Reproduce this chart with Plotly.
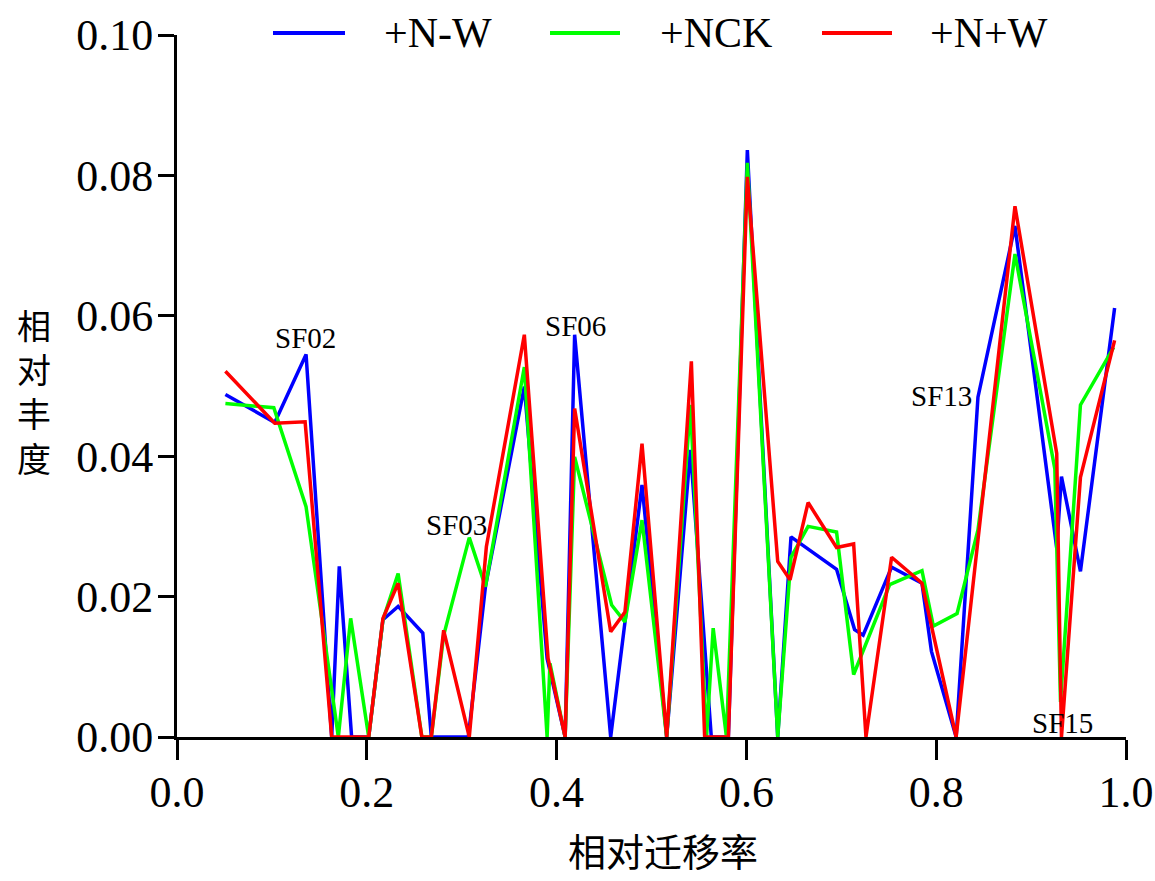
import plotly.graph_objects as go

# ---------------- data ----------------
series_names = ["+N-W", "+NCK", "+N+W"]
series_colors = ["#0000FF", "#00FF00", "#FF0000"]

x_nw = [0.051, 0.103, 0.136, 0.163, 0.171, 0.184, 0.202, 0.217, 0.233, 0.259, 0.268,
        0.307, 0.325, 0.366, 0.390, 0.409, 0.419, 0.457, 0.490, 0.516, 0.541, 0.563,
        0.581, 0.601, 0.633, 0.647, 0.695, 0.714, 0.723, 0.753, 0.785, 0.795, 0.821,
        0.844, 0.883, 0.927, 0.932, 0.952, 0.988]
y_nw = [0.0488, 0.0448, 0.0545, 0.0, 0.0243, 0.0, 0.0, 0.0167, 0.0186, 0.0148, 0.0,
        0.0, 0.0214, 0.0499, 0.0112, 0.0, 0.0573, 0.0, 0.0359, 0.0, 0.0409, 0.0,
        0.0, 0.0836, 0.0, 0.0285, 0.0239, 0.0153, 0.0145, 0.0242, 0.0219, 0.0122, 0.0,
        0.0484, 0.0728, 0.0269, 0.0371, 0.0236, 0.0611]

x_nck = [0.051, 0.102, 0.136, 0.170, 0.183, 0.202, 0.217, 0.233, 0.258, 0.268, 0.281,
         0.308, 0.325, 0.366, 0.390, 0.393, 0.409, 0.419, 0.458, 0.472, 0.490, 0.516,
         0.541, 0.558, 0.565, 0.579, 0.601, 0.633, 0.647, 0.665, 0.695, 0.713, 0.751,
         0.785, 0.797, 0.822, 0.844, 0.883, 0.925, 0.931, 0.952, 0.987]
y_nck = [0.0475, 0.0469, 0.0328, 0.0, 0.0169, 0.0, 0.0167, 0.0233, 0.0, 0.0, 0.0145,
         0.0284, 0.0214, 0.0527, 0.0, 0.0105, 0.0, 0.0399, 0.0188, 0.0164, 0.0309, 0.0,
         0.0473, 0.0, 0.0155, 0.0, 0.0818, 0.0, 0.0256, 0.0300, 0.0292, 0.0089, 0.0217,
         0.0237, 0.0158, 0.0176, 0.0295, 0.0688, 0.0382, 0.0050, 0.0473, 0.0555]

x_npw = [0.051, 0.103, 0.135, 0.163, 0.202, 0.217, 0.233, 0.258, 0.268, 0.281, 0.308,
         0.326, 0.366, 0.391, 0.409, 0.419, 0.457, 0.472, 0.490, 0.516, 0.542, 0.556,
         0.581, 0.601, 0.633, 0.646, 0.665, 0.695, 0.713, 0.726, 0.753, 0.785, 0.821,
         0.883, 0.927, 0.932, 0.952, 0.988]
y_npw = [0.0521, 0.0447, 0.0449, 0.0, 0.0, 0.0169, 0.0219, 0.0, 0.0, 0.0152, 0.0,
         0.0271, 0.0573, 0.0112, 0.0, 0.0468, 0.0150, 0.0178, 0.0418, 0.0, 0.0535, 0.0,
         0.0, 0.0798, 0.0250, 0.0224, 0.0334, 0.0270, 0.0275, 0.0, 0.0256, 0.0219, 0.0,
         0.0756, 0.0404, 0.0, 0.0370, 0.0565]

peak_labels = ["SF02", "SF03", "SF06", "SF13", "SF15"]
peak_label_x = [0.135, 0.295, 0.420, 0.806, 0.933]
peak_label_y = [0.0568, 0.0302, 0.0585, 0.0486, 0.0020]

x_ticks = [0.0, 0.2, 0.4, 0.6, 0.8, 1.0]
y_ticks = [0.00, 0.02, 0.04, 0.06, 0.08, 0.10]

x_title = "相对迁移率"
y_title = "相<br>对<br>丰<br>度"

# ---------------- figure ----------------
SERIF = "Liberation Serif, Times New Roman, serif"
CJK = "Noto Sans CJK SC, sans-serif"

fig = go.Figure()
for xs, ys, name, col in zip([x_nw, x_nck, x_npw], [y_nw, y_nck, y_npw],
                             series_names, series_colors):
    fig.add_trace(go.Scatter(x=xs, y=ys, mode="lines", name=name,
                             line=dict(color=col, width=3.5), showlegend=False,
                             cliponaxis=False))

# plot area geometry (pixels) for paper-coordinate placement
L, R, T, B = 177, 1126, 35, 737
W, H = R - L, B - T


def px(xp):
    return (xp - L) / W


def py(yp):
    return (B - yp) / H


shapes = []
annotations = []

# manual legend
legend_lines = [(273, 345), (550, 620), (822, 892)]
legend_text_x = [382, 658, 928]
for (x0, x1), tx, name, col in zip(legend_lines, legend_text_x, series_names, series_colors):
    shapes.append(dict(type="line", xref="paper", yref="paper",
                       x0=px(x0), x1=px(x1), y0=py(33), y1=py(33),
                       line=dict(color=col, width=4)))
    annotations.append(dict(xref="paper", yref="paper", x=px(tx), y=py(33),
                            xanchor="left", yanchor="middle", text=name,
                            showarrow=False, font=dict(family=SERIF, size=42, color="black")))

# peak labels
for t, lx, ly in zip(peak_labels, peak_label_x, peak_label_y):
    annotations.append(dict(xref="x", yref="y", x=lx, y=ly, text=t, showarrow=False,
                            xanchor="center", yanchor="middle",
                            font=dict(family=SERIF, size=29, color="black")))

# axis titles
annotations.append(dict(xref="paper", yref="paper", x=px(663), y=py(849), text=x_title,
                        showarrow=False, xanchor="center", yanchor="middle",
                        font=dict(family=CJK, size=38, color="black")))
annotations.append(dict(xref="paper", yref="paper", x=px(34), y=py(391), text=y_title,
                        showarrow=False, xanchor="center", yanchor="middle",
                        font=dict(family=CJK, size=34, color="black")))

fig.update_layout(
    width=1155, height=881,
    margin=dict(l=L, r=1155 - R, t=T, b=881 - B, pad=0, autoexpand=False),
    paper_bgcolor="white", plot_bgcolor="white",
    shapes=shapes, annotations=annotations,
    xaxis=dict(range=[0, 1], tickvals=x_ticks, ticktext=[f"{v:.1f}" for v in x_ticks],
               showgrid=False, zeroline=False, showline=True, linecolor="black",
               linewidth=3, ticks="outside", ticklen=20, tickwidth=3, tickcolor="black",
               tickfont=dict(family=SERIF, size=44, color="black"),
               ticklabelstandoff=-6, automargin=False),
    yaxis=dict(range=[0, 0.1], tickvals=y_ticks, ticktext=[f"{v:.2f}" for v in y_ticks],
               showgrid=False, zeroline=False, showline=True, linecolor="black",
               linewidth=3, ticks="outside", ticklen=16, tickwidth=3, tickcolor="black",
               tickfont=dict(family=SERIF, size=44, color="black"),
               ticklabelstandoff=-4, automargin=False),
)

fig.write_html("out.html")
